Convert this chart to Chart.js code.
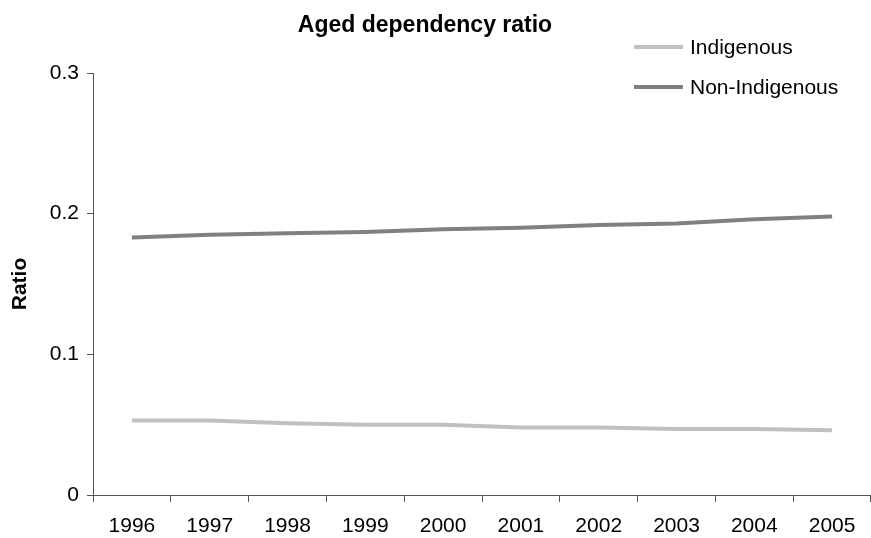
<!DOCTYPE html>
<html>
<head>
<meta charset="utf-8">
<script src="https://cdn.jsdelivr.net/npm/chart.js@4"></script>
<style>
  html, body { margin: 0; padding: 0; background: #fff; }
  #wrap { width: 871px; height: 538px; }
</style>
</head>
<body>
<div id="wrap"><canvas id="chart" width="871" height="538"></canvas></div>
<script>
// data
const years = ['1996', '1997', '1998', '1999', '2000', '2001', '2002', '2003', '2004', '2005'];
const indigenous = [0.053, 0.053, 0.051, 0.050, 0.050, 0.048, 0.048, 0.047, 0.047, 0.046];
const nonIndigenous = [0.183, 0.185, 0.186, 0.187, 0.189, 0.190, 0.192, 0.193, 0.196, 0.198];
const yTicks = [0, 0.1, 0.2, 0.3];
const chartTitle = 'Aged dependency ratio';

const FONT = '"Liberation Sans", Arial, sans-serif';
const axisColor = '#555';

// title is a little left of centre and the legend sits inside the plot, top right
const titleAndLegend = {
    id: 'titleAndLegend',
    afterDraw(chart) {
        const ctx = chart.ctx;
        ctx.save();
        ctx.fillStyle = '#000';
        ctx.textBaseline = 'middle';
        ctx.textAlign = 'center';
        ctx.font = 'bold 23px ' + FONT;
        ctx.fillText(chartTitle, 425, 26);

        ctx.textAlign = 'left';
        ctx.font = '21px ' + FONT;
        chart.data.datasets.forEach((ds, i) => {
            const y = 47 + i * 40;
            ctx.strokeStyle = ds.borderColor;
            ctx.lineWidth = 4;
            ctx.beginPath();
            ctx.moveTo(634, y);
            ctx.lineTo(683, y);
            ctx.stroke();
            ctx.fillText(ds.label, 690, y + 1);
        });
        ctx.restore();
    }
};

new Chart(document.getElementById('chart'), {
    type: 'line',
    data: {
        labels: years,
        datasets: [
            { label: 'Indigenous', data: indigenous, borderColor: '#c0c0c0', borderWidth: 4, pointRadius: 0, tension: 0 },
            { label: 'Non-Indigenous', data: nonIndigenous, borderColor: '#808080', borderWidth: 4, pointRadius: 0, tension: 0 }
        ]
    },
    plugins: [titleAndLegend],
    options: {
        responsive: false, animation: false, devicePixelRatio: 1,
        layout: { padding: { left: 0, right: 0, top: 73, bottom: 0 } },
        plugins: {
            legend: { display: false },
            tooltip: { enabled: false },
            title: { display: false }
        },
        scales: {
            x: {
                offset: true,
                grid: { offset: true, drawOnChartArea: false, drawTicks: true, tickLength: 7, color: axisColor },
                border: { display: true, color: axisColor, width: 1 },
                ticks: { color: '#000', font: { family: FONT, size: 21 }, padding: 12, maxRotation: 0, autoSkip: false },
                afterFit(scale) { scale.height = 43; }
            },
            y: {
                min: 0, max: 0.3,
                afterBuildTicks(scale) { scale.ticks = yTicks.map(v => ({ value: v })); },
                grid: { drawOnChartArea: false, drawTicks: true, tickLength: 6, color: axisColor },
                border: { display: true, color: axisColor, width: 1 },
                ticks: { color: '#000', font: { family: FONT, size: 21 }, padding: 8, callback: v => String(v) },
                title: { display: true, text: 'Ratio', color: '#000', font: { family: FONT, size: 21, weight: 'bold' }, padding: { top: 8, bottom: 0 } },
                afterFit(scale) { scale.width = 93; }
            }
        }
    }
});
</script>
</body>
</html>
